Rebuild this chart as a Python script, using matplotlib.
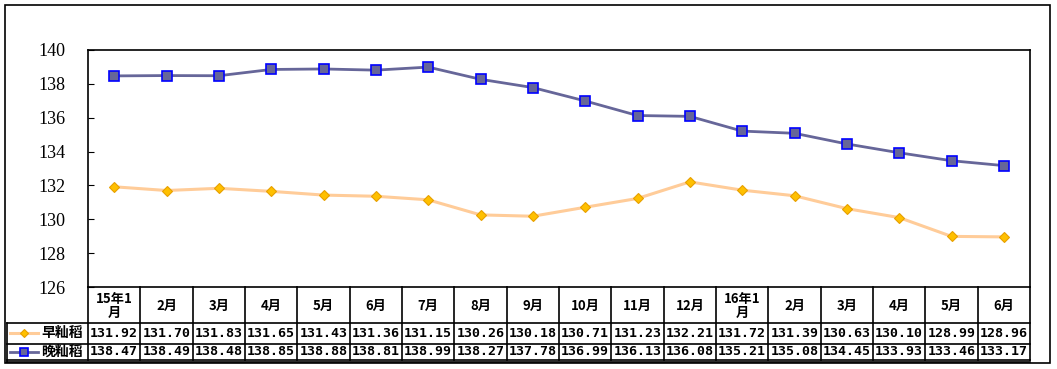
import matplotlib.pyplot as plt
plt.switch_backend('agg')
from matplotlib.lines import Line2D

# months shown along the bottom (data table header)
months = ['15年1\n月', '2月', '3月', '4月', '5月', '6月', '7月', '8月', '9月',
          '10月', '11月', '12月', '16年1\n月', '2月', '3月', '4月', '5月', '6月']
early_rice = [131.92, 131.70, 131.83, 131.65, 131.43, 131.36, 131.15, 130.26, 130.18,
              130.71, 131.23, 132.21, 131.72, 131.39, 130.63, 130.10, 128.99, 128.96]
late_rice = [138.47, 138.49, 138.48, 138.85, 138.88, 138.81, 138.99, 138.27, 137.78,
             136.99, 136.13, 136.08, 135.21, 135.08, 134.45, 133.93, 133.46, 133.17]
series_names = ['早籼稻', '晚籼稻']
yticks = [126, 128, 130, 132, 134, 136, 138, 140]

W, H = 1057, 369
fig = plt.figure(figsize=(W / 100, H / 100), dpi=100)
fig.patch.set_facecolor('white')

def fx(px):
    return px / W

def fy(py):
    return 1 - py / H

# outer chart frame
frame = plt.Rectangle((fx(5), fy(363)), fx(1050) - fx(5), fy(5) - fy(363),
                      transform=fig.transFigure, fill=False, ec='black', lw=1.2)
fig.add_artist(frame)

left, right, top, bottom = 88, 1030, 50, 287
ax = fig.add_axes([fx(left), fy(bottom), fx(right) - fx(left), fy(top) - fy(bottom)])
x = list(range(len(months)))

early_style = dict(color='#FFCC99', lw=2.2, marker='D', ms=4.6,
                   mfc='#FFC000', mec='#E8A000', mew=0.8)
late_style = dict(color='#666699', lw=2, marker='s', ms=7.5,
                  mfc='#666699', mec='#0000FF', mew=1.2)

ax.plot(x, early_rice, **early_style)
ax.plot(x, late_rice, **late_style)

ax.set_xlim(-0.5, len(months) - 0.5)
ax.set_ylim(126, 140)
ax.set_yticks(yticks)
ax.set_yticklabels([str(t) for t in yticks], family='Liberation Serif', fontsize=13)
ax.tick_params(axis='y', direction='in', length=4, pad=16, colors='black')
ax.tick_params(axis='x', bottom=False, labelbottom=False)
for s in ax.spines.values():
    s.set_linewidth(1.2)
ax.spines['bottom'].set_visible(False)

# data table under the plot, x in data units, y in pixels
tab = fig.add_axes([fx(left), fy(362), fx(right) - fx(left), fy(bottom) - fy(362)], sharex=ax)
tab.set_ylim(362, bottom)
tab.axis('off')
col_w = (right - left) / len(months)
x_lab = -0.5 - (left - 7) / col_w
row_lines = [bottom, 323, 344, 360]

kw = dict(color='black', lw=1.2, clip_on=False)
tab.plot([-0.5, len(months) - 0.5], [bottom, bottom], **kw)
for yy in row_lines[1:]:
    tab.plot([x_lab, len(months) - 0.5], [yy, yy], **kw)
tab.plot([x_lab, len(months) - 0.5], [362, 362], **kw)
tab.plot([x_lab, x_lab], [323, 362], **kw)
for k in range(len(months) + 1):
    tab.plot([k - 0.5, k - 0.5], [bottom, 360], **kw)

cjk = ['Noto Sans CJK SC', 'DejaVu Sans']
for i, m in enumerate(months):
    tab.text(i, (bottom + 323) / 2 + 1, m, ha='center', va='center', family=cjk,
             fontweight='bold', fontsize=9.5, linespacing=1.0)
    tab.text(i, (323 + 344) / 2, '%.2f' % early_rice[i], ha='center', va='center',
             family='DejaVu Sans Mono', fontweight='bold', fontsize=9.5)
    tab.text(i, (344 + 360) / 2, '%.2f' % late_rice[i], ha='center', va='center',
             family='DejaVu Sans Mono', fontweight='bold', fontsize=9.5)

# legend keys inside the row label column
for name, style, (y0, y1) in zip(series_names, [early_style, late_style],
                                 [(323, 344), (344, 360)]):
    yc = (y0 + y1) / 2
    xa = x_lab + 3 / col_w
    xb = x_lab + 31 / col_w
    tab.add_line(Line2D([xa, xb], [yc, yc], clip_on=False, color=style['color'], lw=style['lw']))
    tab.add_line(Line2D([(xa + xb) / 2], [yc], clip_on=False, ls='none', marker=style['marker'],
                        ms=style['ms'] * 0.85, mfc=style['mfc'], mec=style['mec'], mew=style['mew']))
    tab.text(x_lab + 34 / col_w, yc, name, ha='left', va='center', family=cjk,
             fontweight='bold', fontsize=10)

fig.savefig('out.png', dpi=100)
